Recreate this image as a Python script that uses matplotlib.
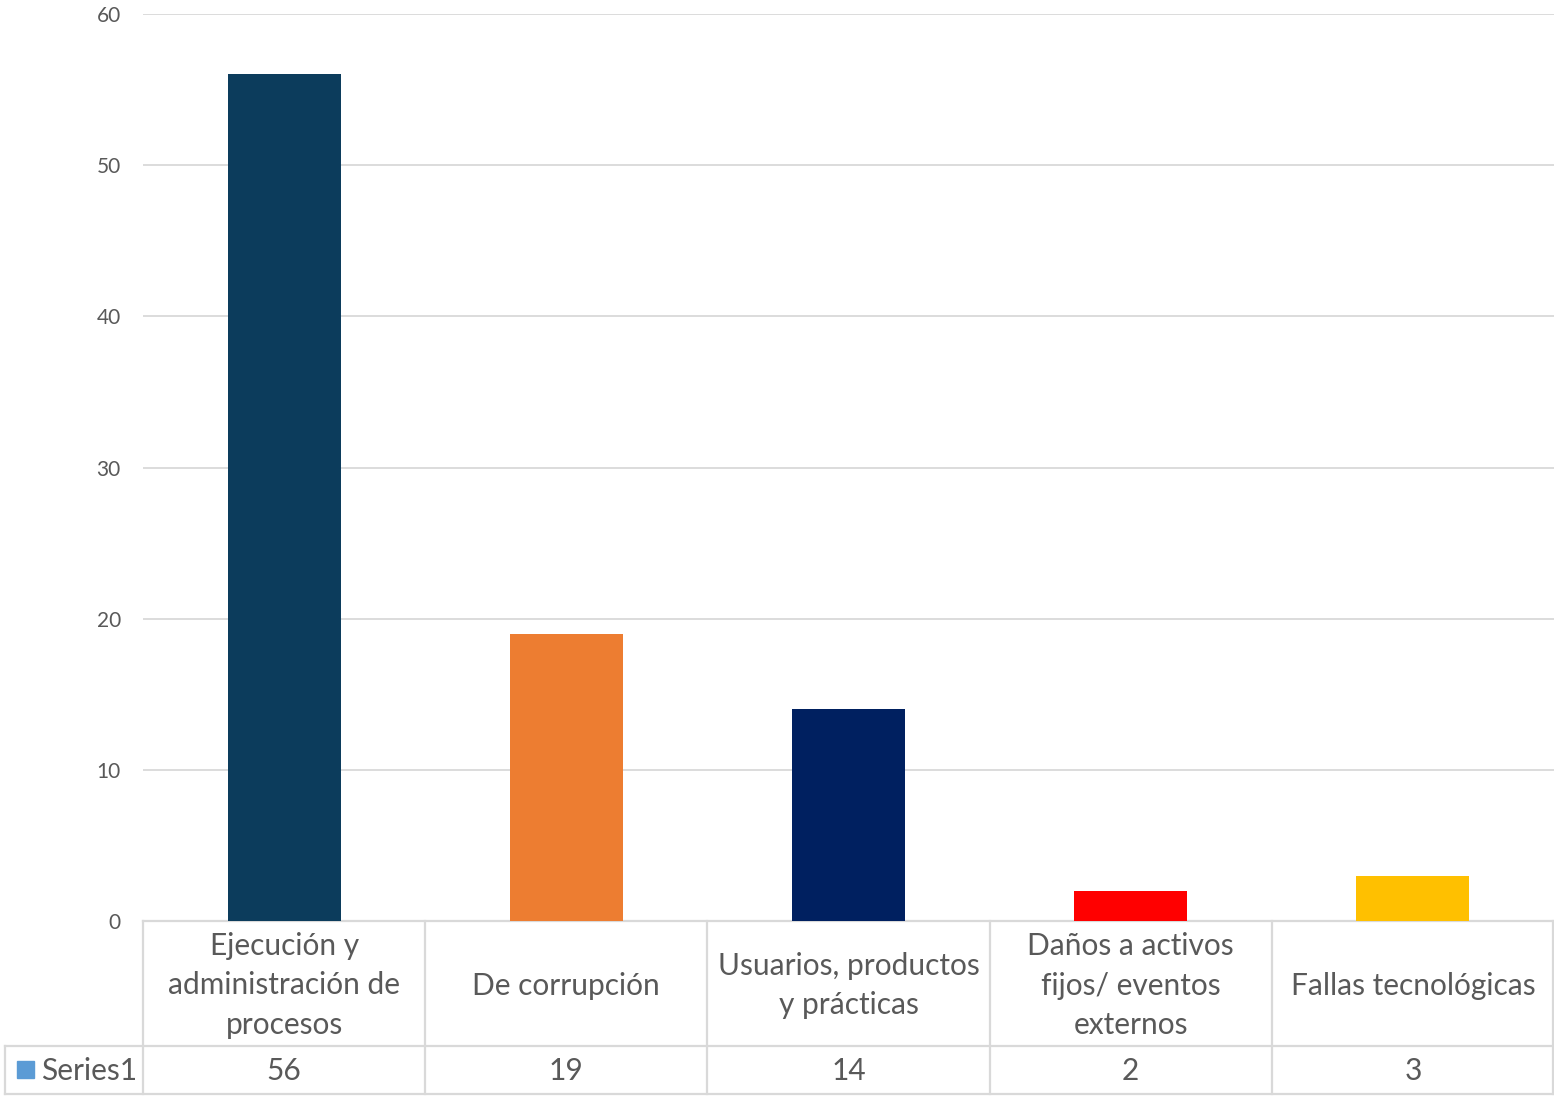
import matplotlib.pyplot as plt
from matplotlib.transforms import blended_transform_factory
from matplotlib.patches import Rectangle

categories = ["Ejecución y\nadministración de\nprocesos", "De corrupción",
              "Usuarios, productos\ny prácticas", "Daños a activos\nfijos/ eventos\nexternos",
              "Fallas tecnológicas"]
values = [56, 19, 14, 2, 3]
bar_colors = ["#0C3C5C", "#ED7D31", "#002060", "#FF0000", "#FFC000"]
series_name = "Series1"
yticks = [0, 10, 20, 30, 40, 50, 60]

plt.rcParams['font.family'] = ['Lato', 'DejaVu Sans']
grey = "#595959"
line_c = "#D9D9D9"

fig = plt.figure(figsize=(15.54, 10.96), dpi=100)
ax = fig.add_axes([143/1554, 1-921/1096, 1411/1554, 907/1096])

x = list(range(len(values)))
ax.bar(x, values, width=0.4, color=bar_colors, zorder=3)
ax.set_xlim(-0.5, len(values)-0.5)
ax.set_ylim(0, 60)
ax.set_yticks(yticks)
ax.set_yticklabels([str(t) for t in yticks], fontsize=15, color=grey)
ax.tick_params(axis='y', length=0, pad=16)
ax.set_xticks([])
ax.grid(axis='y', color=line_c, linewidth=1.3, zorder=0)
for s in ax.spines.values():
    s.set_visible(False)

# data table
h1 = 125/907
h2 = 173/907
left = (5-143)/1411
kw = dict(transform=ax.transAxes, color=line_c, lw=1.6, clip_on=False)
ax.plot([0, 1], [0, 0], **kw)
ax.plot([left, 1], [-h1, -h1], **kw)
ax.plot([left, 1], [-h2, -h2], **kw)
ax.plot([left, left], [-h1, -h2], **kw)
n = len(values)
for i in range(n + 1):
    xf = i / n
    if i == n:
        xf = 0.9995
    ax.plot([xf, xf], [0, -h2], **kw)

tr = blended_transform_factory(ax.transData, ax.transAxes)
for i, (c, v) in enumerate(zip(categories, values)):
    ax.text(i, -h1/2 - 2/907, c, transform=tr, ha='center', va='center', fontsize=21.5,
            color=grey, linespacing=1.52)
    ax.text(i, -(h1+h2)/2 - 1/907, str(v), transform=tr, ha='center', va='center',
            fontsize=21.5, color=grey)

ax.add_patch(Rectangle((left + 12/1411, -(h1+h2)/2 - 8/907), 17/1411, 17/907,
                       transform=ax.transAxes, color="#5B9BD5", clip_on=False))
ax.text(left + 36/1411, -(h1+h2)/2 - 1/907, series_name, transform=ax.transAxes,
        ha='left', va='center', fontsize=21.5, color=grey)

fig.savefig("out.png", dpi=100)
